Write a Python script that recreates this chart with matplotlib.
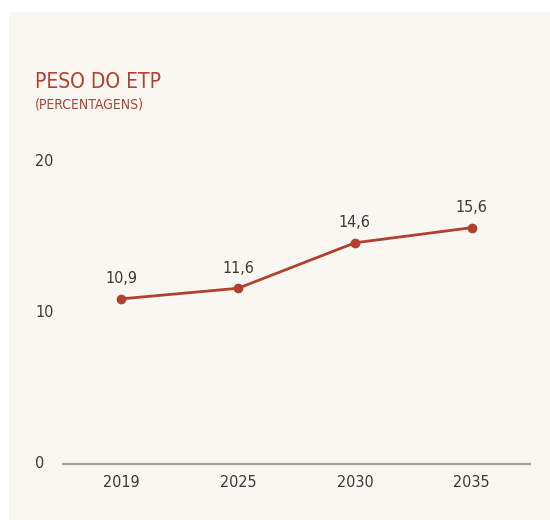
import matplotlib
matplotlib.use("Agg")
import matplotlib.pyplot as plt
from matplotlib.patches import Rectangle
import matplotlib.transforms as mtransforms

years = ["2019", "2025", "2030", "2035"]
values = [10.9, 11.6, 14.6, 15.6]
value_labels = ["10,9", "11,6", "14,6", "15,6"]
yticks = [0, 10, 20]
title = "PESO DO ETP"
subtitle = "(PERCENTAGENS)"

plt.rcParams['font.family'] = ['DejaVu Sans']
plt.rcParams['font.stretch'] = 'condensed'

W, H = 550, 520
fig = plt.figure(figsize=(W/100, H/100), dpi=100, facecolor="white")
bg = Rectangle((9/W, 0), 1 - 9/W, 1 - 12/H, transform=fig.transFigure,
               facecolor="#f9f7f2", edgecolor="none", zorder=-10)
fig.add_artist(bg)

ax = fig.add_axes([63/W, 1 - 464/H, (530 - 63)/W, (464 - 161)/H])
ax.set_facecolor("none")
red = "#b3402f"
x = list(range(len(years)))
ax.plot(x, values, color=red, lw=2.0, marker="o", ms=6, zorder=3)
for xi, v, lab in zip(x, values, value_labels):
    ax.annotate(lab, (xi, v), xytext=(0, 9), textcoords="offset points",
                ha="center", va="bottom", fontsize=11.5, color="#3a3a3a")

ax.set_xlim(-0.5, 3.5)
ax.set_ylim(0, 20)
for s in ["top", "right", "left"]:
    ax.spines[s].set_visible(False)
ax.spines["bottom"].set_color("#a0a0a0")
ax.spines["bottom"].set_linewidth(1.5)
ax.set_xticks(x)
ax.set_xticklabels(years, fontsize=11.5, color="#3a3a3a")
ax.tick_params(axis="x", length=0, pad=8)
ax.set_yticks([])

trans = mtransforms.blended_transform_factory(fig.transFigure, ax.transData)
for t in yticks:
    ax.text(35/W, t, str(t), transform=trans, ha="left", va="center",
            fontsize=11.5, color="#3a3a3a")

fig.text(35/W, 1 - 82/H, title, ha="left", va="center", fontsize=15, color=red)
fig.text(35/W, 1 - 104/H, subtitle, ha="left", va="center", fontsize=10, color=red)

fig.savefig("out.png", dpi=100, facecolor=fig.get_facecolor())
